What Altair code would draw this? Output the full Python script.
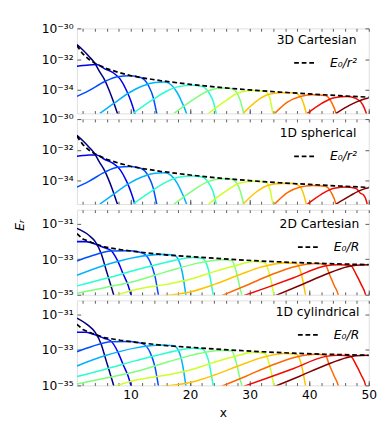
import altair as alt
import pandas as pd

# ---------------- data (values are log10 of E_r) ----------------
X_DOMAIN = [1, 50]
X_MAJOR = [10, 20, 30, 40, 50]
X_MINOR = list(range(2, 51, 2))
JET_COLORS = ["#000080", "#0000f3", "#004dff", "#00b3ff", "#29ffce", "#7dff7a",
              "#ceff29", "#ffc400", "#ff6800", "#f30900", "#800000"]

# Panel 1: 3D Cartesian
P1_CURVE_X = [
    [1, 2, 3, 4, 4.8, 5.6, 6.3, 7, 7.8, 8.3],
    [1, 2, 3, 4.3, 5.6, 7.2, 8.3, 9.3, 10.1, 10.7, 11],
    [1, 3, 5.6, 7.8, 10, 11.7, 13.0, 13.8, 14.4, 14.7],
    [4.85, 7.2, 9.9, 12, 14.1, 15.7, 16.75, 17.8, 18.6, 19.4, 19.8],
    [10.4, 13.6, 16.2, 18.3, 20.4, 22, 23.1, 23.9, 24.4, 24.8],
    [17.3, 20.4, 23.1, 25.2, 26.8, 27.6, 28.4, 29, 29.3],
    [23.1, 25.7, 28.4, 30.5, 32.6, 33.4, 33.9, 34.2],
    [28.9, 31, 33.1, 35.3, 37.4, 38.5, 39.2, 39.5, 39.8],
    [34.2, 36.4, 38.5, 40.5, 42.7, 43.7, 44.5, 44.8],
    [39.7, 42.1, 44.2, 46.4, 47.9, 49, 49.6, 50],
    [44.5, 46.9, 49, 50],
]
P1_CURVE_LOGE = [
    [-31.05, -31.4, -31.8, -32.25, -32.8, -33.3, -33.9, -34.6, -35.5, -36],
    [-32.45, -32.4, -32.36, -32.34, -32.6, -32.9, -33.3, -34.0, -34.75, -35.5, -36],
    [-34.4, -34.03, -33.45, -33.12, -33.07, -33.18, -33.7, -34.45, -35.5, -36],
    [-35.5, -34.85, -34.13, -33.73, -33.5, -33.47, -33.63, -34.13, -34.75, -35.5, -36],
    [-35.5, -34.64, -34.03, -33.75, -33.68, -33.75, -34.13, -34.75, -35.5, -36],
    [-35.5, -34.64, -34.03, -33.86, -33.88, -34.03, -34.64, -35.5, -36],
    [-35.5, -34.75, -34.13, -34.02, -34.06, -34.54, -35.5, -36],
    [-35.5, -34.75, -34.28, -34.16, -34.17, -34.4, -35.05, -35.5, -36],
    [-35.5, -34.75, -34.4, -34.29, -34.34, -34.75, -35.5, -36],
    [-35.5, -34.85, -34.48, -34.41, -34.54, -34.95, -35.5, -36],
    [-35.5, -34.95, -34.6, -34.5],
]
P1_DASH_X = [1, 1.5, 2, 3, 4, 5, 6, 8, 10, 12, 15, 20, 25, 30, 35, 40, 45, 50]
P1_DASH_LOGE = [-31.1, -31.4, -31.65, -32.0, -32.25, -32.43, -32.6, -32.85, -33.05,
                -33.2, -33.38, -33.62, -33.82, -33.98, -34.12, -34.24, -34.35, -34.45]

# Panel 2: 1D spherical
P2_CURVE_X = [
    [1, 2, 3, 4, 4.8, 5.6, 6.3, 7, 7.8, 8.3],
    [1, 2, 3, 4.3, 5.6, 7.2, 8.3, 9.3, 10.1, 10.7, 11],
    [1, 3, 5.6, 7.8, 10, 11.7, 13.0, 13.8, 14.4, 14.7],
    [4.85, 7.2, 9.9, 12, 14.1, 15.7, 16.75, 17.8, 18.6, 19.4, 19.8],
    [10.4, 13.6, 16.2, 18.3, 20.4, 22, 23.1, 23.9, 24.4, 24.8],
    [17.3, 20.4, 23.1, 25.2, 26.8, 27.6, 28.4, 29, 29.3],
    [23.1, 25.7, 28.4, 30.5, 32.6, 33.4, 33.9, 34.2],
    [28.9, 31, 33.1, 35.3, 37.4, 38.5, 39.2, 39.5, 39.8],
    [34.2, 36.4, 38.5, 40.5, 42.7, 43.7, 44.5, 44.8],
    [39.7, 42.1, 44.2, 46.4, 47.9, 48.6, 49.1, 49.6, 50],
    [44.5, 46.9, 49, 50],
]
P2_CURVE_LOGE = [
    [-31.05, -31.4, -31.8, -32.25, -32.8, -33.3, -33.9, -34.6, -35.5, -36],
    [-32.4, -32.36, -32.33, -32.32, -32.6, -32.9, -33.3, -34.0, -34.75, -35.5, -36],
    [-34.4, -34.03, -33.45, -33.12, -33.07, -33.18, -33.7, -34.45, -35.5, -36],
    [-35.5, -34.85, -34.13, -33.73, -33.5, -33.47, -33.63, -34.13, -34.75, -35.5, -36],
    [-35.5, -34.64, -34.03, -33.75, -33.68, -33.75, -34.13, -34.75, -35.5, -36],
    [-35.5, -34.64, -34.03, -33.86, -33.88, -34.03, -34.64, -35.5, -36],
    [-35.5, -34.75, -34.13, -34.02, -34.06, -34.54, -35.5, -36],
    [-35.5, -34.75, -34.28, -34.16, -34.17, -34.4, -35.05, -35.5, -36],
    [-35.5, -34.75, -34.4, -34.29, -34.34, -34.75, -35.5, -36],
    [-35.5, -34.85, -34.48, -34.4, -34.5, -34.8, -34.9, -35.3, -36],
    [-35.5, -34.95, -34.55, -34.45],
]
P2_DASH_X = P1_DASH_X
P2_DASH_LOGE = [-31.1, -31.4, -31.65, -32.0, -32.25, -32.43, -32.6, -32.85, -33.05,
                -33.2, -33.38, -33.62, -33.82, -33.98, -34.12, -34.23, -34.33, -34.42]

# Panel 3: 2D Cartesian
P3_CURVE_X = [
    [1, 3, 4.07, 5.1, 5.9, 6.7, 7.2, 7.6],
    [1, 2.5, 3.5, 5.65, 6.7, 7.8, 8.8, 9.6, 10.1, 10.5],
    [1, 3.5, 6.7, 9.9, 12, 13.3, 14.1, 14.7, 15],
    [1, 5.65, 10.9, 15.1, 17.3, 18.3, 18.9, 19.3, 19.6],
    [1, 5.65, 10.9, 16.2, 20.4, 22, 23.1, 23.6, 23.9, 24.2],
    [1, 5.65, 10.9, 16.2, 21.5, 25.2, 27, 27.8, 28.4, 28.7, 29],
    [7.3, 10.9, 16.2, 20, 24.2, 27.9, 30.6, 32.6, 33.4, 34.1, 34.4],
    [15.2, 20, 24.2, 28.4, 32.1, 35.9, 37.9, 38.7, 39.4, 39.7],
    [25.3, 29.4, 33.7, 37.5, 41.2, 42.7, 43.4, 44.2, 44.9, 45.2],
    [29, 33.1, 37.4, 42.8, 44.9, 46.9, 47.9, 48.7, 49.5, 49.8],
    [34.3, 38.4, 42.7, 46.4, 47.9, 50],
]
P3_CURVE_LOGE = [
    [-31.25, -31.64, -32.0, -32.7, -33.6, -34.48, -35.05, -35.6],
    [-32.0, -32.0, -32.08, -32.35, -32.49, -33.06, -33.86, -34.48, -35.05, -35.6],
    [-33.1, -32.8, -32.53, -32.52, -32.64, -33.15, -33.95, -35.05, -35.6],
    [-33.9, -33.33, -32.88, -32.72, -32.76, -33.24, -34.13, -35.05, -35.6],
    [-34.5, -34.1, -33.6, -33.15, -32.9, -32.94, -33.6, -34.48, -35.05, -35.6],
    [-34.92, -34.6, -34.22, -33.68, -33.2, -33.02, -33.06, -33.77, -34.66, -35.05, -35.6],
    [-35.05, -34.7, -34.4, -34.13, -33.68, -33.33, -33.12, -33.2, -33.95, -35.05, -35.6],
    [-35.05, -34.84, -34.4, -33.86, -33.42, -33.2, -33.24, -33.86, -35.05, -35.6],
    [-35.05, -34.48, -33.86, -33.42, -33.24, -33.3, -33.86, -34.48, -35.05, -35.6],
    [-35.05, -34.57, -34.04, -33.36, -33.3, -33.34, -33.86, -34.4, -35.05, -35.6],
    [-35.05, -34.48, -33.86, -33.42, -33.33, -33.3],
]
P3_DASH_X = [1, 2, 3.5, 5.6, 8.3, 10.9, 16.2, 21.5, 26.8, 32.1, 37.4, 42.7, 50]
P3_DASH_LOGE = [-31.55, -31.85, -32.05, -32.3, -32.45, -32.57, -32.76, -32.88,
                -33.0, -33.1, -33.18, -33.24, -33.3]

# Panel 4: 1D cylindrical
P4_CURVE_X = P3_CURVE_X
P4_CURVE_LOGE = [
    [-31.2, -31.64, -32.0, -32.7, -33.6, -34.48, -35.05, -35.6],
    [-32.0, -32.0, -32.08, -32.35, -32.49, -33.06, -33.86, -34.48, -35.05, -35.6],
    [-33.1, -32.8, -32.53, -32.52, -32.64, -33.15, -33.95, -35.05, -35.6],
    [-33.9, -33.33, -32.88, -32.72, -32.76, -33.24, -34.13, -35.05, -35.6],
    [-34.5, -34.1, -33.6, -33.15, -32.9, -32.94, -33.6, -34.48, -35.05, -35.6],
    [-34.92, -34.6, -34.22, -33.68, -33.2, -33.02, -33.06, -33.77, -34.66, -35.05, -35.6],
    [-35.05, -34.7, -34.4, -34.13, -33.68, -33.33, -33.12, -33.2, -33.95, -35.05, -35.6],
    [-35.05, -34.84, -34.4, -33.86, -33.42, -33.2, -33.24, -33.86, -35.05, -35.6],
    [-35.05, -34.48, -33.86, -33.42, -33.24, -33.3, -33.86, -34.48, -35.05, -35.6],
    [-35.05, -34.57, -34.04, -33.36, -33.3, -33.34, -33.86, -34.4, -35.05, -35.6],
    [-35.05, -34.48, -33.86, -33.42, -33.33, -33.3],
]
P4_DASH_X = P3_DASH_X
P4_DASH_LOGE = P3_DASH_LOGE

PANELS = [
    dict(name="3D Cartesian", label="E₀/r²", cx=P1_CURVE_X, cv=P1_CURVE_LOGE,
         dx=P1_DASH_X, dv=P1_DASH_LOGE, ylo=-35.5, yhi=-30, yticks=[-34, -32, -30]),
    dict(name="1D spherical", label="E₀/r²", cx=P2_CURVE_X, cv=P2_CURVE_LOGE,
         dx=P2_DASH_X, dv=P2_DASH_LOGE, ylo=-35.5, yhi=-30, yticks=[-34, -32, -30]),
    dict(name="2D Cartesian", label="E₀/R", cx=P3_CURVE_X, cv=P3_CURVE_LOGE,
         dx=P3_DASH_X, dv=P3_DASH_LOGE, ylo=-35, yhi=-30.2, yticks=[-35, -33, -31]),
    dict(name="1D cylindrical", label="E₀/R", cx=P4_CURVE_X, cv=P4_CURVE_LOGE,
         dx=P4_DASH_X, dv=P4_DASH_LOGE, ylo=-35, yhi=-30.2, yticks=[-35, -33, -31]),
]

# ---------------- styling ----------------
FONT = "DejaVu Sans"
FS = 13
W, H = 309, 90
FRAME = "#555555"
SUP = str.maketrans("-0123456789", "⁻⁰¹²³⁴⁵⁶⁷⁸⁹")
CURVE_NAMES = [f"c{i}" for i in range(len(JET_COLORS))]
LEGEND_X = [210, 213, 212, 208]
LEGEND_Y = [6, 9, 9, 6]
SYMBOL_OFFSET = [19, 16, 21, 25]


def exp_label_expr(exps):
    parts = [f"round(log(datum.value)/LN10) == {e} ? '10{str(e).translate(SUP)}' : " for e in exps]
    return "".join(parts) + "''"


def make_panel(k, p, bottom):
    rows = []
    for i, (xs, vs) in enumerate(zip(p["cx"], p["cv"])):
        for x, v in zip(xs, vs):
            rows.append({"x": x, "E": 10 ** v, "curve": CURVE_NAMES[i]})
    cdf = pd.DataFrame(rows)
    ddf = pd.DataFrame({"x": p["dx"], "E": [10 ** v for v in p["dv"]], "lab": p["label"]})

    xscale = alt.Scale(domain=X_DOMAIN, nice=False, zero=False)
    yscale = alt.Scale(type="log", domain=[10 ** p["ylo"], 10 ** p["yhi"]], nice=False)
    yvals = [10.0 ** e for e in p["yticks"]]

    # bottom axis: major ticks (labelled on the last panel only)
    xaxis_kw = dict(orient="bottom", values=X_MAJOR, labels=bottom, domain=False, grid=False,
                    ticks=True, tickSize=5, offset=-5, tickColor=FRAME,
                    labelFont=FONT, labelFontSize=FS, labelColor="black", labelPadding=4,
                    labelFlush=False, labelOverlap=False,
                    titleFont=FONT, titleFontSize=FS, titleFontWeight="normal",
                    titleColor="black", titlePadding=6)
    xaxis = alt.Axis(title="x", **xaxis_kw) if bottom else alt.Axis(title=None, **xaxis_kw)

    yaxis_kw = dict(orient="left", values=yvals, labelExpr=exp_label_expr(p["yticks"]),
                    domain=False, grid=False, ticks=True, tickSize=4, offset=-4,
                    tickColor=FRAME, labelFont=FONT, labelFontSize=FS, labelColor="black",
                    labelPadding=4, labelOverlap=False, labelFlush=False)
    if k == 2:
        yaxis = alt.Axis(title="Eᵣ", titleFont=FONT, titleFontSize=FS, titleFontStyle="italic",
                         titleFontWeight="normal", titleColor="black", titleX=-58, titleY=16,
                         **yaxis_kw)
    else:
        yaxis = alt.Axis(title=None, **yaxis_kw)

    curves = alt.Chart(cdf).mark_line(clip=True, strokeWidth=1.6, interpolate="monotone").encode(
        x=alt.X("x:Q", scale=xscale, axis=xaxis),
        y=alt.Y("E:Q", scale=yscale, axis=yaxis),
        color=alt.Color("curve:N", scale=alt.Scale(domain=CURVE_NAMES, range=JET_COLORS), legend=None),
    )
    legend = alt.Legend(
        orient="none", legendX=LEGEND_X[k], legendY=LEGEND_Y[k], title=p["name"],
        titleFont=FONT, titleFontSize=FS, titleFontWeight="normal", titleColor="black",
        titleAnchor="end", titlePadding=5,
        labelFont=FONT, labelFontSize=FS, labelFontStyle="italic", labelColor="black",
        labelOffset=14, symbolType="stroke", symbolSize=529, symbolStrokeWidth=1.8,
        symbolStrokeColor="black", symbolOffset=SYMBOL_OFFSET[k],
    )
    dashed = alt.Chart(ddf).mark_line(clip=True, color="black", strokeWidth=1.8).encode(
        x=alt.X("x:Q", scale=xscale),
        y=alt.Y("E:Q", scale=yscale),
        strokeDash=alt.StrokeDash("lab:N", scale=alt.Scale(domain=[p["label"]], range=[[5, 3]]),
                                  legend=legend),
    )
    main = alt.layer(curves, dashed)

    # top axis (minor ticks) and right axis, on independent copies of the same scales
    top_axis = alt.Axis(orient="top", values=X_MINOR, labels=False, domain=False, grid=False,
                        ticks=True, tickSize=3, offset=-3, tickColor=FRAME, title=None)
    right_axis = alt.Axis(orient="right", values=yvals, labels=False, domain=False, grid=False,
                          ticks=True, tickSize=4, offset=-4, tickColor=FRAME, title=None)
    frame_ticks = alt.Chart(ddf).mark_point(opacity=0, size=1).encode(
        x=alt.X("x:Q", scale=xscale, axis=top_axis),
        y=alt.Y("E:Q", scale=yscale, axis=right_axis),
    )
    # bottom minor ticks
    bottom_minor_axis = alt.Axis(orient="bottom", values=X_MINOR, labels=False, domain=False,
                                 grid=False, ticks=True, tickSize=3, offset=-3, tickColor=FRAME,
                                 title=None)
    minor_ticks = alt.Chart(ddf).mark_point(opacity=0, size=1).encode(
        x=alt.X("x:Q", scale=xscale, axis=bottom_minor_axis),
    )
    return alt.layer(main, frame_ticks, minor_ticks).resolve_scale(
        x="independent", y="independent").properties(width=W, height=H)


panels = [make_panel(k, p, k == len(PANELS) - 1) for k, p in enumerate(PANELS)]
chart = alt.vconcat(*panels, spacing=6, bounds="flush").resolve_scale(
    strokeDash="independent").resolve_legend(strokeDash="independent").properties(
    padding={"left": 5, "top": 2, "right": 5, "bottom": 5}).configure_view(
    stroke=FRAME, strokeWidth=1.2).configure_axis(labelOverlap=False).configure(background="white")

chart.save("out.html", embed_options={"renderer": "svg", "actions": False})
